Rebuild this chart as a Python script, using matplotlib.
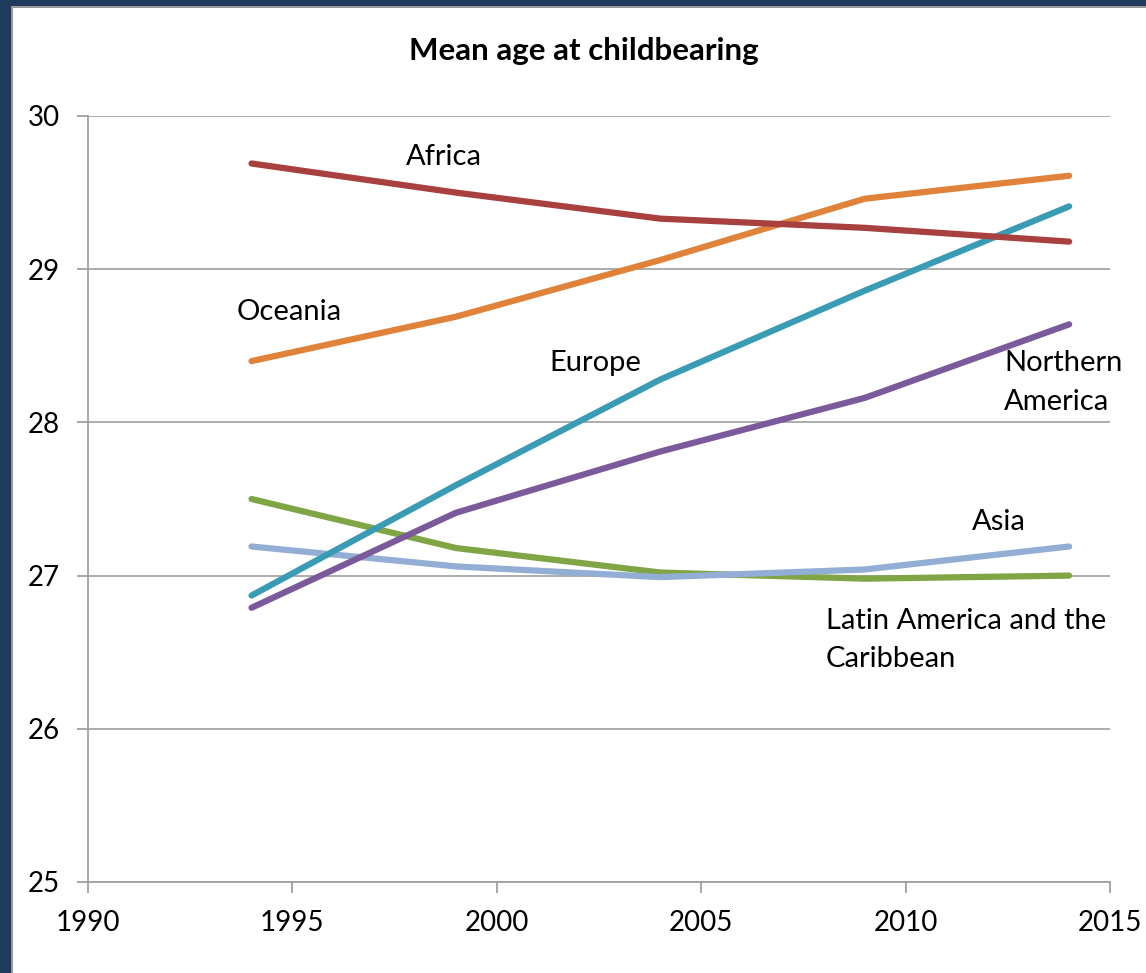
import matplotlib
matplotlib.use("Agg")
import matplotlib.pyplot as plt
from matplotlib.patches import Rectangle

plt.rcParams["font.family"] = ["Lato", "DejaVu Sans"]

years = [1994, 1999, 2004, 2009, 2014]
africa = [29.69, 29.50, 29.33, 29.27, 29.18]
oceania = [28.40, 28.69, 29.06, 29.46, 29.61]
europe = [26.87, 27.59, 28.28, 28.86, 29.41]
northern_america = [26.79, 27.41, 27.81, 28.16, 28.64]
latin_america = [27.50, 27.18, 27.02, 26.98, 27.00]
asia = [27.19, 27.06, 26.99, 27.04, 27.19]

x_ticks = [1990, 1995, 2000, 2005, 2010, 2015]
y_ticks = [25, 26, 27, 28, 29, 30]

series = [
    (latin_america, "#7FA545"),
    (asia, "#93AED5"),
    (northern_america, "#7A5A9A"),
    (europe, "#3A9BB4"),
    (oceania, "#E0823A"),
    (africa, "#A8403F"),
]

fig = plt.figure(figsize=(11.46, 9.73), dpi=100)
fig.patch.set_facecolor("white")

# dark frame on the left and top edges
navy = "#1E3A5C"
fig.add_artist(Rectangle((0, 0), 11 / 1146, 1, transform=fig.transFigure,
                         facecolor=navy, edgecolor="none"))
fig.add_artist(Rectangle((0, 1 - 6 / 973), 1, 6 / 973, transform=fig.transFigure,
                         facecolor=navy, edgecolor="none"))
fig.add_artist(Rectangle((11 / 1146, 0), 2 / 1146, 1 - 6 / 973, transform=fig.transFigure,
                         facecolor="#9A9A9A", edgecolor="none"))
fig.add_artist(Rectangle((11 / 1146, 1 - 8 / 973), 1, 2 / 973, transform=fig.transFigure,
                         facecolor="#9A9A9A", edgecolor="none"))

ax = fig.add_axes([88 / 1146, 1 - 882 / 973, (1110 - 88) / 1146, (882 - 116) / 973])

for vals, col in series:
    ax.plot(years, vals, color=col, lw=4.5, solid_capstyle="round",
            solid_joinstyle="round", zorder=3)

ax.set_xlim(1990, 2015)
ax.set_ylim(25, 30)
ax.set_xticks(x_ticks)
ax.set_yticks(y_ticks)
ax.yaxis.grid(True, color="#A6A6A6", lw=1.3)
ax.set_axisbelow(True)
for s in ["top", "right"]:
    ax.spines[s].set_visible(False)
for s in ["left", "bottom"]:
    ax.spines[s].set_color("#A0A0A0")
    ax.spines[s].set_linewidth(1.3)
ax.tick_params(axis="both", colors="#A0A0A0", labelcolor="black",
               labelsize=20, length=8, width=1.3)
ax.tick_params(axis="x", pad=12)
ax.tick_params(axis="y", pad=12)

fig.text(584 / 1146, 1 - 51 / 973, "Mean age at childbearing", ha="center",
         va="center", fontsize=22.5, fontweight="bold")

lab = dict(fontsize=21, color="black", va="center")
ax.text(1998.71, 29.73, "Africa", ha="center", **lab)
ax.text(1994.92, 28.72, "Oceania", ha="center", **lab)
ax.text(2002.40, 28.39, "Europe", ha="center", **lab)
ax.text(2012.41, 28.26, "Northern\nAmerica", ha="left", linespacing=1.6, **lab)
ax.text(2012.28, 27.35, "Asia", ha="center", **lab)
ax.text(2008.05, 26.58, "Latin America and the\nCaribbean", ha="left",
        linespacing=1.6, **lab)

fig.savefig("out.png", dpi=100, facecolor="white")
